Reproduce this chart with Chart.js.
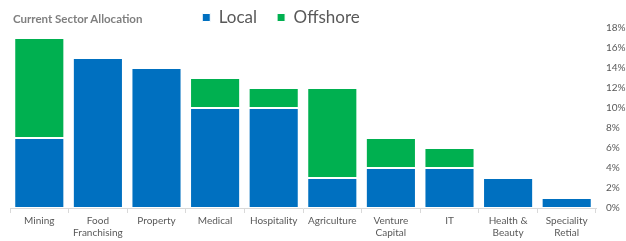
<!DOCTYPE html>
<html>
<head>
<meta charset="utf-8">
<script src="https://cdn.jsdelivr.net/npm/chart.js@4"></script>
<style>
  body { margin: 0; background: #fff; }
  #wrap { position: relative; width: 626px; height: 241px; }
  #title {
    position: absolute; left: 13px; top: 12px;
    font: bold 11.5px Lato, "Liberation Sans", sans-serif; color: #7f7f7f;
  }
</style>
</head>
<body>
<div id="wrap">
  <div id="title">Current Sector Allocation</div>
  <canvas id="myChart" width="626" height="241"></canvas>
</div>
<script>
const sectors = ['Mining', ['Food', 'Franchising'], 'Property', 'Medical', 'Hospitality',
  'Agriculture', ['Venture', 'Capital'], 'IT', ['Health &', 'Beauty'], ['Speciality', 'Retial']];
const local = [7, 15, 14, 10, 10, 3, 4, 4, 3, 1];
const offshore = [10, 0, 0, 3, 2, 9, 3, 2, 0, 0];
const yTicks = [0, 2, 4, 6, 8, 10, 12, 14, 16, 18];

const txtColor = '#595959';
Chart.defaults.font.family = 'Lato, "Liberation Sans", sans-serif';

var ctx = document.getElementById('myChart').getContext('2d');

// legend sits a bit left of centre, next to the title
const legendShift = {
    id: 'legendShift',
    afterLayout(chart) {
        chart.legend.left -= 22;
        chart.legend.right -= 22;
    }
};

var myChart = new Chart(ctx, {
    type: 'bar',
    data: {
        labels: sectors,
        datasets: [{
            label: 'Local',
            data: local,
            backgroundColor: '#0070C0',
            borderColor: '#ffffff',
            borderWidth: 1,
            borderSkipped: false
        }, {
            label: 'Offshore',
            data: offshore,
            backgroundColor: '#00B050',
            borderColor: '#ffffff',
            borderWidth: 1,
            borderSkipped: false
        }]
    },
    plugins: [legendShift],
    options: {
        responsive: false,
        animation: false,
        // legend needs wide gaps between items but little height
        layout: { padding: { left: 10, right: 0, top: -11, bottom: 0 } },
        datasets: { bar: { categoryPercentage: 1, barPercentage: 0.855 } },
        plugins: {
            tooltip: { enabled: false },
            legend: {
                position: 'top',
                fullSize: false,
                maxHeight: 39,
                labels: {
                    color: txtColor,
                    font: { size: 17 },
                    boxWidth: 8,
                    boxHeight: 8,
                    padding: 20
                }
            }
        },
        scales: {
            x: {
                stacked: true,
                grid: { display: true, drawOnChartArea: false, tickLength: 5, color: '#d9d9d9' },
                border: { color: '#d9d9d9' },
                ticks: { color: txtColor, font: { size: 10 }, maxRotation: 0, autoSkip: false, padding: 2 }
            },
            y: {
                stacked: true,
                position: 'right',
                min: 0,
                max: 18,
                afterBuildTicks: function (axis) {
                    axis.ticks = yTicks.map(v => ({ value: v }));
                },
                afterFit: function (axis) {
                    axis.width = 30;
                },
                grid: { display: false, drawTicks: false },
                border: { display: false },
                ticks: {
                    color: txtColor,
                    font: { size: 10 },
                    padding: 10,
                    callback: v => v + '%'
                }
            }
        }
    }
});
</script>
</body>
</html>
